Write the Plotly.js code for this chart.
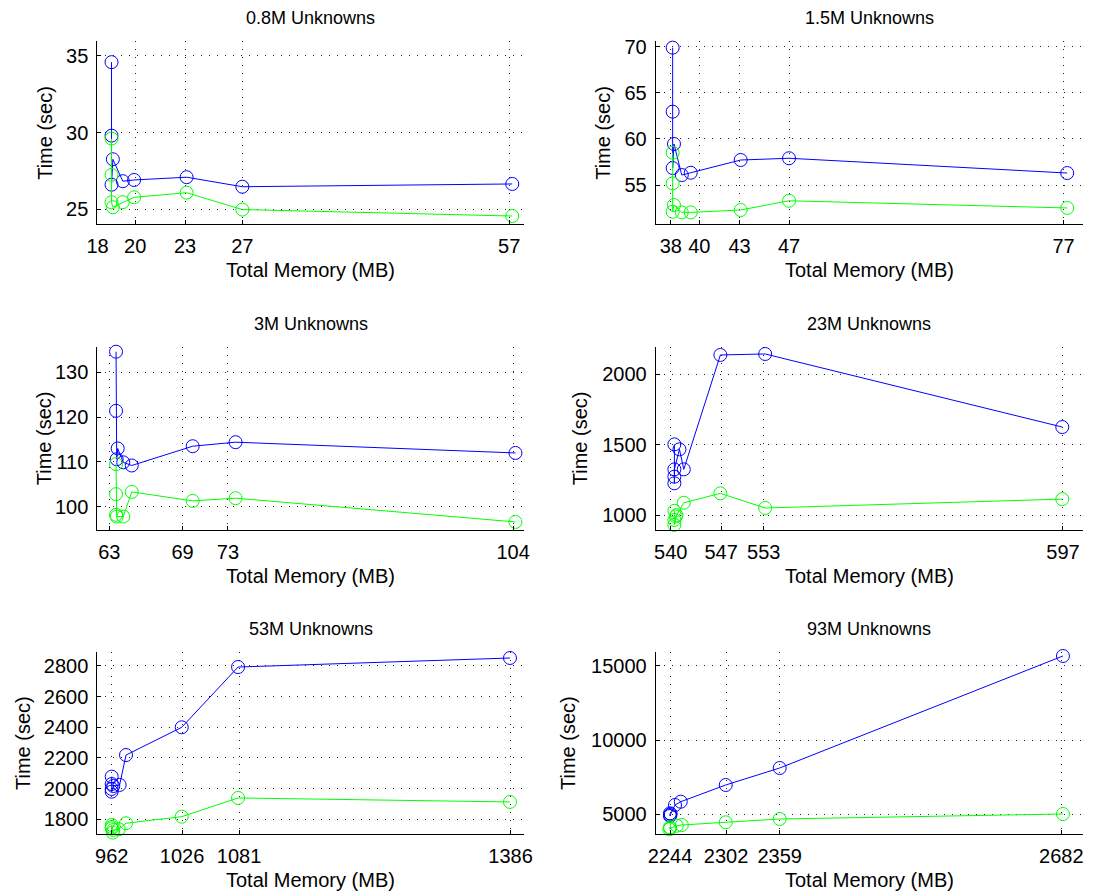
<!DOCTYPE html>
<html><head><meta charset="utf-8">
<script src="https://cdn.plot.ly/plotly-3.0.1.min.js"></script>
<style>html,body{margin:0;padding:0;background:#fff}</style>
</head><body><div id="chart" style="width:1096px;height:894px"></div>
<script>
// ---- data ----
const plotTitles = ['0.8M Unknowns','1.5M Unknowns','3M Unknowns','23M Unknowns','53M Unknowns','93M Unknowns'];

const memBlue1 = [18.72, 18.72, 18.72, 18.79, 19.32, 19.94, 23.1, 27.0, 57.5];
const timeBlue1 = [34.59, 29.80, 26.60, 28.26, 26.83, 26.91, 27.09, 26.47, 26.65];
const memGreen1 = [18.72, 18.72, 18.72, 18.79, 19.32, 19.94, 23.1, 27.0, 57.5];
const timeGreen1 = [29.61, 27.24, 25.46, 25.13, 25.46, 25.78, 26.08, 24.98, 24.56];

const memBlue2 = [38.13, 38.13, 38.13, 38.22, 38.76, 39.39, 43.09, 47.0, 77.5];
const timeBlue2 = [69.89, 62.95, 56.84, 59.45, 56.08, 56.33, 57.71, 57.90, 56.30];
const memGreen2 = [38.13, 38.13, 38.13, 38.22, 38.76, 39.39, 43.09, 47.0, 77.5];
const timeGreen2 = [58.50, 55.18, 52.10, 52.83, 52.03, 52.03, 52.29, 53.29, 52.51];

const memBlue3 = [63.53, 63.53, 63.58, 63.66, 64.10, 64.78, 69.87, 73.69, 104.3];
const timeBlue3 = [134.6, 121.4, 110.6, 113.0, 109.9, 109.2, 113.5, 114.4, 112.0];
const memGreen3 = [63.53, 63.53, 63.53, 63.58, 64.10, 64.78, 69.87, 73.69, 104.3];
const timeGreen3 = [109.5, 102.8, 98.2, 97.8, 97.8, 103.3, 101.3, 101.9, 96.6];

const memBlue4 = [540.5, 540.5, 540.5, 540.5, 541.2, 541.8, 546.9, 553.2, 596.9];
const timeBlue4 = [1501, 1225, 1272, 1324, 1466, 1324, 2135, 2142, 1624];
const memGreen4 = [540.5, 540.5, 540.5, 540.8, 540.7, 541.8, 546.9, 553.2, 596.9];
const timeGreen4 = [1030, 965, 930, 1000, 990, 1087, 1154, 1050, 1113];

const memBlue5 = [962, 962, 962, 962, 963.4, 969, 974.7, 1025.7, 1080, 1385.3];
const timeBlue5 = [2078, 2030, 1998, 1980, 2017, 2024, 2219, 2400, 2793, 2852];
const memGreen5 = [962, 962, 962, 962.9, 963.4, 968.2, 974.7, 1025.7, 1080, 1385.3];
const timeGreen5 = [1763, 1750, 1741, 1713, 1730, 1735, 1774, 1817, 1939, 1913];

const memBlue6 = [2244, 2244, 2244, 2244.7, 2249.1, 2255, 2301.7, 2359, 2684];
const timeBlue6 = [5067, 4950, 4886, 5020, 5626, 5848, 6972, 8116, 15653];
const memGreen6 = [2243.3, 2244, 2244, 2250.9, 2256.1, 2301.7, 2359, 2684];
const timeGreen6 = [3991, 4125, 4058, 4233, 4280, 4462, 4684, 5020];

const xTicks1 = [18, 20, 23, 27, 57];
const xTicks2 = [38, 40, 43, 47, 77];
const xTicks3 = [63, 69, 73, 104];
const xTicks4 = [540, 547, 553, 597];
const xTicks5 = [962, 1026, 1081, 1386];
const xTicks6 = [2244, 2302, 2359, 2682];

const yTicks1 = [25, 30, 35];
const yTicks2 = [55, 60, 65, 70];
const yTicks3 = [100, 110, 120, 130];
const yTicks4 = [1000, 1500, 2000];
const yTicks5 = [1800, 2000, 2200, 2400, 2600, 2800];
const yTicks6 = [5000, 10000, 15000];

const xTitle = 'Total Memory (MB)';
const yTitle = 'Time (sec)';

// ---- layout geometry (pixels) ----
const W = 1096, H = 894;
const cols = [[97.3, 524.3], [655.7, 1082.7]];
const rows = [[41.3, 224.3], [346.5, 530], [651.7, 834.3]];
const xRanges = [[1.2550, 1.7743], [1.56802, 1.9014], [1.79287, 2.02306],
                 [2.73072, 2.77817], [2.97745, 3.14724], [3.34819, 3.43269]];
const yRanges = [[24.02, 35.95], [50.74, 70.58], [94.8, 135.76],
                 [894, 2195], [1702, 2893], [3654, 15942]];
const yTitleX = [45, 603, 44, 580, 23, 568];

const sets = [
  [memBlue1, timeBlue1, memGreen1, timeGreen1, xTicks1, yTicks1],
  [memBlue2, timeBlue2, memGreen2, timeGreen2, xTicks2, yTicks2],
  [memBlue3, timeBlue3, memGreen3, timeGreen3, xTicks3, yTicks3],
  [memBlue4, timeBlue4, memGreen4, timeGreen4, xTicks4, yTicks4],
  [memBlue5, timeBlue5, memGreen5, timeGreen5, xTicks5, yTicks5],
  [memBlue6, timeBlue6, memGreen6, timeGreen6, xTicks6, yTicks6]
];

const FONT = 'Liberation Sans, Arial, Helvetica, sans-serif';
const traces = [];
const layout = {
  width: W, height: H,
  margin: {l: 0, r: 0, t: 0, b: 0},
  paper_bgcolor: '#fff', plot_bgcolor: 'rgba(0,0,0,0)',
  showlegend: false,
  font: {family: FONT, size: 20, color: '#000'},
  annotations: []
};

sets.forEach((s, i) => {
  const k = i + 1;
  const xa = k === 1 ? 'x' : 'x' + k;
  const ya = k === 1 ? 'y' : 'y' + k;
  const col = cols[i % 2], row = rows[Math.floor(i / 2)];
  const mk = (x, y, color) => ({
    type: 'scatter', mode: 'lines+markers', x: x, y: y, xaxis: xa, yaxis: ya,
    line: {color: color, width: 1},
    marker: {symbol: 'circle-open', size: 13, color: color, line: {width: 1, color: color}},
    cliponaxis: false, hoverinfo: 'skip'
  });
  traces.push(mk(s[0], s[1], '#0000ff'));
  traces.push(mk(s[2], s[3], '#00ff00'));

  const common = {
    showline: true, linecolor: '#000', linewidth: 1, mirror: false,
    ticks: 'inside', ticklen: 4, tickcolor: '#000', tickwidth: 1,
    showgrid: true, gridcolor: '#222', gridwidth: 1, griddash: '1px,7px',
    zeroline: false, tickfont: {family: FONT, size: 20, color: '#000'}
  };
  layout['xaxis' + (k === 1 ? '' : k)] = Object.assign({}, common, {
    type: 'log', range: xRanges[i], anchor: ya,
    domain: [col[0] / W, col[1] / W],
    tickmode: 'array', tickvals: s[4], ticktext: s[4].map(String),
    ticklabelstandoff: 4
  });
  layout['yaxis' + (k === 1 ? '' : k)] = Object.assign({}, common, {
    type: 'linear', range: yRanges[i], anchor: xa,
    domain: [1 - row[1] / H, 1 - row[0] / H],
    tickmode: 'array', tickvals: s[5], ticktext: s[5].map(String),
    ticklabelstandoff: 4
  });
  const cx = (col[0] + col[1]) / 2;
  layout.annotations.push({text: plotTitles[i], xref: 'paper', yref: 'paper',
    x: cx / W, y: 1 - (row[0] - 23) / H, xanchor: 'center', yanchor: 'middle',
    showarrow: false, font: {family: FONT, size: 18, color: '#000'}});
  layout.annotations.push({text: xTitle, xref: 'paper', yref: 'paper',
    x: cx / W, y: 1 - (row[1] + 46) / H, xanchor: 'center', yanchor: 'middle',
    showarrow: false, font: {family: FONT, size: 20, color: '#000'}});
  layout.annotations.push({text: yTitle, xref: 'paper', yref: 'paper',
    x: yTitleX[i] / W, y: 1 - ((row[0] + row[1]) / 2) / H, xanchor: 'center', yanchor: 'middle',
    textangle: -90, showarrow: false, font: {family: FONT, size: 20, color: '#000'}});
});

Plotly.newPlot('chart', traces, layout, {displayModeBar: false, staticPlot: true});
</script>
</body></html>
